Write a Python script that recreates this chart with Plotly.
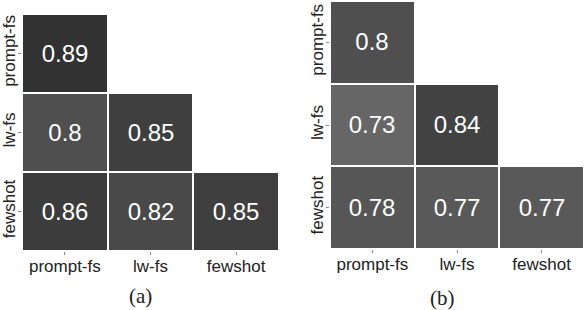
import plotly.graph_objects as go

labels = ["prompt-fs", "lw-fs", "fewshot"]
values_a = [[0.89, None, None],
            [0.80, 0.85, None],
            [0.86, 0.82, 0.85]]
values_b = [[0.80, None, None],
            [0.73, 0.84, None],
            [0.78, 0.77, 0.77]]
panel_titles = ["(a)", "(b)"]

def fmt(v):
    return "" if v is None else ("%g" % v)

fig = go.Figure()
cs = [[0, "#666666"], [1, "#323232"]]
for i, vals in enumerate([values_a, values_b]):
    sfx = "" if i == 0 else "2"
    fig.add_trace(go.Heatmap(
        z=vals, x=labels, y=labels,
        text=[[fmt(v) for v in row] for row in vals],
        texttemplate="%{text}",
        textfont=dict(family="Liberation Sans, Arial", size=24, color="white"),
        colorscale=cs, zmin=0.73, zmax=0.89, showscale=False,
        xgap=2, ygap=2, hoverinfo="skip",
        xaxis="x" + sfx, yaxis="y" + sfx))

tickfont = dict(family="Liberation Sans, Arial", size=17, color="#222222")
axcommon = dict(showgrid=False, zeroline=False, showline=False, ticks="outside",
                ticklen=3, tickcolor="#888888", tickfont=tickfont, fixedrange=True,
                automargin=False)

fig.update_layout(
    width=584, height=310, margin=dict(l=0, r=0, t=0, b=0, autoexpand=False),
    paper_bgcolor="white", plot_bgcolor="white",
    xaxis=dict(domain=[22/584, 279/584], anchor="y", ticklabelstandoff=-3, **axcommon),
    yaxis=dict(domain=[1-251/310, 1-14/310], anchor="x", autorange="reversed",
               tickangle=-90, ticklabelstandoff=-4, **axcommon),
    xaxis2=dict(domain=[330/584, 1.0], anchor="y2", ticklabelstandoff=-3, **axcommon),
    yaxis2=dict(domain=[1-249/310, 1-1/310], anchor="x2", autorange="reversed",
                tickangle=-90, ticklabelstandoff=-4, **axcommon),
    annotations=[
        dict(text=panel_titles[0], x=140/584, y=1-296/310, xref="paper", yref="paper",
             xanchor="center", yanchor="middle", showarrow=False,
             font=dict(family="Liberation Serif, Times New Roman", size=21, color="#222")),
        dict(text=panel_titles[1], x=442/584, y=1-298/310, xref="paper", yref="paper",
             xanchor="center", yanchor="middle", showarrow=False,
             font=dict(family="Liberation Serif, Times New Roman", size=21, color="#222")),
    ],
)

fig.write_html("out.html", config={"displayModeBar": False},
               post_script="document.body.style.margin='0';")
